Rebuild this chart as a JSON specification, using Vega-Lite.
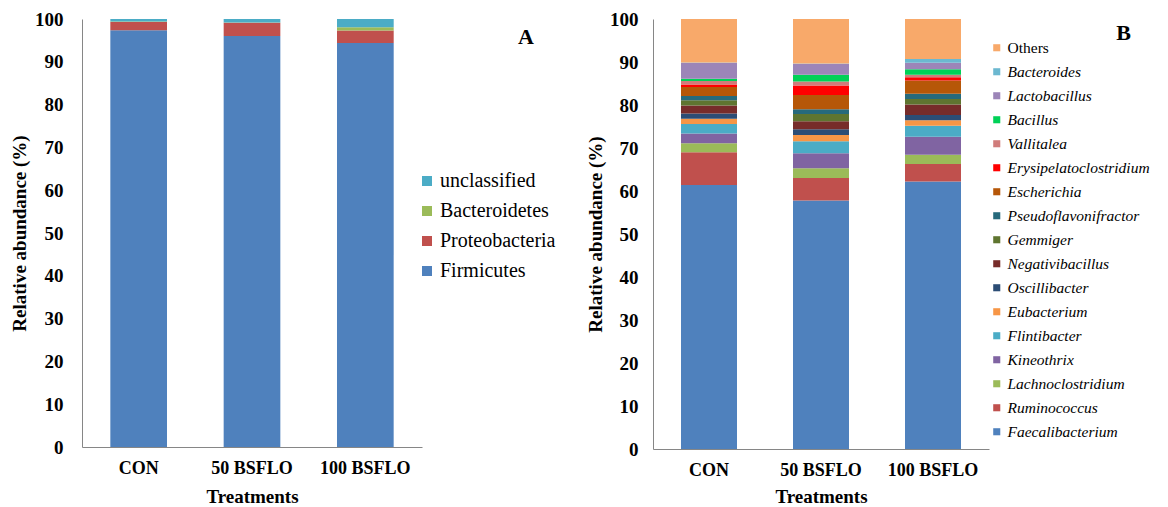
{
  "$schema": "https://vega.github.io/schema/vega-lite/v6.json",
  "padding": {"left": 10, "top": 10, "right": 0, "bottom": 0},
  "autosize": {"type": "pad"},
  "background": "white",
  "config": {
    "font": "Liberation Serif",
    "view": {"stroke": null},
    "axis": {
      "labelFont": "Liberation Serif", "titleFont": "Liberation Serif",
      "labelFontWeight": "bold", "titleFontWeight": "bold",
      "labelColor": "black", "titleColor": "black",
      "domainColor": "#868686", "domainWidth": 1,
      "ticks": false, "grid": false,
      "labelFontSize": 19, "titleFontSize": 19
    },
    "legend": {"labelFont": "Liberation Serif", "labelColor": "black", "symbolType": "square", "symbolStrokeWidth": 0, "symbolOpacity": 1, "labelLimit": 400, "labelOffset": 3},
    "title": {"font": "Liberation Serif", "fontWeight": "bold", "color": "black"}
  },
  "datasets": {
    "phylum": [
      {"treatment": "CON", "taxon": "Firmicutes", "abundance": 97.4, "rank": 1},
      {"treatment": "CON", "taxon": "Proteobacteria", "abundance": 1.9, "rank": 2},
      {"treatment": "CON", "taxon": "Bacteroidetes", "abundance": 0.1, "rank": 3},
      {"treatment": "CON", "taxon": "unclassified", "abundance": 0.6, "rank": 4},
      {"treatment": "50 BSFLO", "taxon": "Firmicutes", "abundance": 96.0, "rank": 1},
      {"treatment": "50 BSFLO", "taxon": "Proteobacteria", "abundance": 3.1, "rank": 2},
      {"treatment": "50 BSFLO", "taxon": "Bacteroidetes", "abundance": 0.1, "rank": 3},
      {"treatment": "50 BSFLO", "taxon": "unclassified", "abundance": 0.8, "rank": 4},
      {"treatment": "100 BSFLO", "taxon": "Firmicutes", "abundance": 94.4, "rank": 1},
      {"treatment": "100 BSFLO", "taxon": "Proteobacteria", "abundance": 2.9, "rank": 2},
      {"treatment": "100 BSFLO", "taxon": "Bacteroidetes", "abundance": 0.8, "rank": 3},
      {"treatment": "100 BSFLO", "taxon": "unclassified", "abundance": 1.9, "rank": 4}
    ],
    "genus": [
      {"treatment": "CON", "taxon": "Faecalibacterium", "abundance": 61.4, "rank": 1},
      {"treatment": "CON", "taxon": "Ruminococcus", "abundance": 7.6, "rank": 2},
      {"treatment": "CON", "taxon": "Lachnoclostridium", "abundance": 2.1, "rank": 3},
      {"treatment": "CON", "taxon": "Kineothrix", "abundance": 2.3, "rank": 4},
      {"treatment": "CON", "taxon": "Flintibacter", "abundance": 2.2, "rank": 5},
      {"treatment": "CON", "taxon": "Eubacterium", "abundance": 1.2, "rank": 6},
      {"treatment": "CON", "taxon": "Oscillibacter", "abundance": 1.2, "rank": 7},
      {"treatment": "CON", "taxon": "Negativibacillus", "abundance": 1.9, "rank": 8},
      {"treatment": "CON", "taxon": "Gemmiger", "abundance": 1.2, "rank": 9},
      {"treatment": "CON", "taxon": "Pseudoflavonifractor", "abundance": 1.0, "rank": 10},
      {"treatment": "CON", "taxon": "Escherichia", "abundance": 2.1, "rank": 11},
      {"treatment": "CON", "taxon": "Erysipelatoclostridium", "abundance": 0.55, "rank": 12},
      {"treatment": "CON", "taxon": "Vallitalea", "abundance": 0.85, "rank": 13},
      {"treatment": "CON", "taxon": "Bacillus", "abundance": 0.5, "rank": 14},
      {"treatment": "CON", "taxon": "Lactobacillus", "abundance": 3.7, "rank": 15},
      {"treatment": "CON", "taxon": "Bacteroides", "abundance": 0.1, "rank": 16},
      {"treatment": "CON", "taxon": "Others", "abundance": 10.1, "rank": 17},
      {"treatment": "50 BSFLO", "taxon": "Faecalibacterium", "abundance": 57.8, "rank": 1},
      {"treatment": "50 BSFLO", "taxon": "Ruminococcus", "abundance": 5.2, "rank": 2},
      {"treatment": "50 BSFLO", "taxon": "Lachnoclostridium", "abundance": 2.27, "rank": 3},
      {"treatment": "50 BSFLO", "taxon": "Kineothrix", "abundance": 3.49, "rank": 4},
      {"treatment": "50 BSFLO", "taxon": "Flintibacter", "abundance": 2.79, "rank": 5},
      {"treatment": "50 BSFLO", "taxon": "Eubacterium", "abundance": 1.48, "rank": 6},
      {"treatment": "50 BSFLO", "taxon": "Oscillibacter", "abundance": 1.32, "rank": 7},
      {"treatment": "50 BSFLO", "taxon": "Negativibacillus", "abundance": 1.87, "rank": 8},
      {"treatment": "50 BSFLO", "taxon": "Gemmiger", "abundance": 1.71, "rank": 9},
      {"treatment": "50 BSFLO", "taxon": "Pseudoflavonifractor", "abundance": 1.08, "rank": 10},
      {"treatment": "50 BSFLO", "taxon": "Escherichia", "abundance": 3.34, "rank": 11},
      {"treatment": "50 BSFLO", "taxon": "Erysipelatoclostridium", "abundance": 2.18, "rank": 12},
      {"treatment": "50 BSFLO", "taxon": "Vallitalea", "abundance": 0.93, "rank": 13},
      {"treatment": "50 BSFLO", "taxon": "Bacillus", "abundance": 1.56, "rank": 14},
      {"treatment": "50 BSFLO", "taxon": "Lactobacillus", "abundance": 2.56, "rank": 15},
      {"treatment": "50 BSFLO", "taxon": "Bacteroides", "abundance": 0.1, "rank": 16},
      {"treatment": "50 BSFLO", "taxon": "Others", "abundance": 10.32, "rank": 17},
      {"treatment": "100 BSFLO", "taxon": "Faecalibacterium", "abundance": 62.23, "rank": 1},
      {"treatment": "100 BSFLO", "taxon": "Ruminococcus", "abundance": 4.04, "rank": 2},
      {"treatment": "100 BSFLO", "taxon": "Lachnoclostridium", "abundance": 2.18, "rank": 3},
      {"treatment": "100 BSFLO", "taxon": "Kineothrix", "abundance": 4.19, "rank": 4},
      {"treatment": "100 BSFLO", "taxon": "Flintibacter", "abundance": 2.56, "rank": 5},
      {"treatment": "100 BSFLO", "taxon": "Eubacterium", "abundance": 1.25, "rank": 6},
      {"treatment": "100 BSFLO", "taxon": "Oscillibacter", "abundance": 1.24, "rank": 7},
      {"treatment": "100 BSFLO", "taxon": "Negativibacillus", "abundance": 2.41, "rank": 8},
      {"treatment": "100 BSFLO", "taxon": "Gemmiger", "abundance": 1.32, "rank": 9},
      {"treatment": "100 BSFLO", "taxon": "Pseudoflavonifractor", "abundance": 1.17, "rank": 10},
      {"treatment": "100 BSFLO", "taxon": "Escherichia", "abundance": 3.1, "rank": 11},
      {"treatment": "100 BSFLO", "taxon": "Erysipelatoclostridium", "abundance": 0.78, "rank": 12},
      {"treatment": "100 BSFLO", "taxon": "Vallitalea", "abundance": 0.55, "rank": 13},
      {"treatment": "100 BSFLO", "taxon": "Bacillus", "abundance": 1.32, "rank": 14},
      {"treatment": "100 BSFLO", "taxon": "Lactobacillus", "abundance": 1.47, "rank": 15},
      {"treatment": "100 BSFLO", "taxon": "Bacteroides", "abundance": 0.86, "rank": 16},
      {"treatment": "100 BSFLO", "taxon": "Others", "abundance": 9.33, "rank": 17}
    ]
  },
  "spacing": 30,
  "resolve": {"scale": {"color": "independent"}, "legend": {"color": "independent"}},
  "hconcat": [
    {
      "width": 340,
      "height": 428,
      "data": {"name": "phylum"},
      "title": {"text": "A", "anchor": "end", "frame": "group", "fontSize": 22, "dx": 112, "dy": 43},
      "mark": {"type": "bar"},
      "encoding": {
        "x": {
          "field": "treatment", "type": "nominal",
          "sort": ["CON", "50 BSFLO", "100 BSFLO"],
          "scale": {"paddingInner": 0.5, "paddingOuter": 0.25},
          "axis": {"title": "Treatments", "labelAngle": 0, "labelPadding": 12, "titlePadding": 10, "labelFontSize": 18}
        },
        "y": {
          "field": "abundance", "type": "quantitative", "stack": "zero",
          "scale": {"domain": [0, 100], "nice": false},
          "axis": {"title": "Relative abundance (%)", "values": [0, 10, 20, 30, 40, 50, 60, 70, 80, 90, 100], "labelPadding": 19, "titlePadding": 5}
        },
        "color": {
          "field": "taxon", "type": "nominal",
          "scale": {
            "domain": ["unclassified", "Bacteroidetes", "Proteobacteria", "Firmicutes"],
            "range": ["#4BACC6", "#9BBB59", "#C0504D", "#4F81BD"]
          },
          "legend": {"title": null, "orient": "none", "legendX": 335, "legendY": 152, "labelFontSize": 20, "symbolSize": 100, "rowPadding": 10, "labelFontStyle": "normal"}
        },
        "order": {"field": "rank", "type": "quantitative"}
      }
    },
    {
      "width": 336,
      "height": 430,
      "data": {"name": "genus"},
      "title": {"text": "B", "anchor": "end", "frame": "group", "fontSize": 22, "dx": 142, "dy": 39},
      "mark": {"type": "bar"},
      "encoding": {
        "x": {
          "field": "treatment", "type": "nominal",
          "sort": ["CON", "50 BSFLO", "100 BSFLO"],
          "scale": {"paddingInner": 0.5, "paddingOuter": 0.25},
          "axis": {"title": "Treatments", "labelAngle": 0, "labelPadding": 12, "titlePadding": 8, "labelFontSize": 18}
        },
        "y": {
          "field": "abundance", "type": "quantitative", "stack": "zero",
          "scale": {"domain": [0, 100], "nice": false},
          "axis": {"title": "Relative abundance (%)", "values": [0, 10, 20, 30, 40, 50, 60, 70, 80, 90, 100], "labelPadding": 15, "titlePadding": 4}
        },
        "color": {
          "field": "taxon", "type": "nominal",
          "scale": {
            "domain": ["Others", "Bacteroides", "Lactobacillus", "Bacillus", "Vallitalea", "Erysipelatoclostridium", "Escherichia", "Pseudoflavonifractor", "Gemmiger", "Negativibacillus", "Oscillibacter", "Eubacterium", "Flintibacter", "Kineothrix", "Lachnoclostridium", "Ruminococcus", "Faecalibacterium"],
            "range": ["#F8A96A", "#6CB8D0", "#9C85B8", "#00D157", "#D07C7B", "#FF0000", "#B65708", "#276A7C", "#5F7530", "#772C2A", "#2C4D75", "#F79646", "#4BACC6", "#8064A2", "#9BBB59", "#C0504D", "#4F81BD"]
          },
          "legend": {"title": null, "orient": "none", "legendX": 336, "legendY": 21, "labelFontSize": 15.5, "symbolSize": 50, "rowPadding": 7, "labelFontStyle": {"expr": "datum.label == 'Others' ? 'normal' : 'italic'"}}
        },
        "order": {"field": "rank", "type": "quantitative"}
      }
    }
  ]
}
